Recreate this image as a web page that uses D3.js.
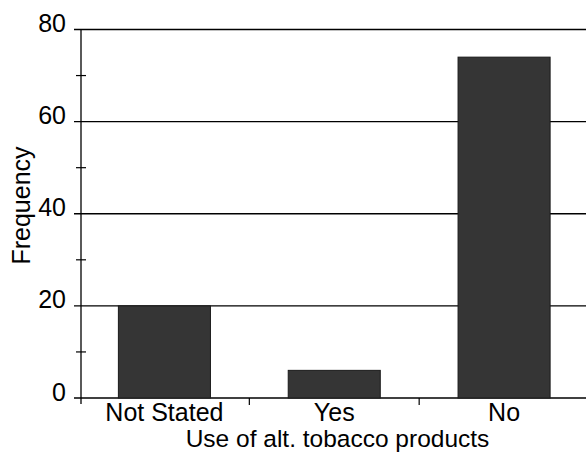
<!DOCTYPE html>
<html>
<head>
<meta charset="utf-8">
<script src="https://cdn.jsdelivr.net/npm/d3@7/dist/d3.min.js"></script>
<style>
  html, body { margin: 0; padding: 0; background: #fff; }
  svg { display: block; }
  text { font-family: "Liberation Sans", Arial, sans-serif; fill: #000; }
</style>
</head>
<body>
<svg id="chart" width="586" height="452"></svg>
<script>
const categories = ["Not Stated", "Yes", "No"];
const frequencies = [20, 6, 74];
const yTicks = [0, 20, 40, 60, 80];
const yMinorTicks = [10, 30, 50, 70];
const xTitle = "Use of alt. tobacco products";
const yTitle = "Frequency";

(function () {
const svg = d3.select("#chart");
const W = 586;
const mLeft = 81, mRight = 589, mTop = 29.5, mBottom = 398;
const fs = "25px";

const x = d3.scaleBand().domain(categories).range([mLeft - 1.5, mRight])
  .paddingInner(0.458).paddingOuter(0.229);
const y = d3.scaleLinear().domain([0, 80]).range([mBottom, mTop]);

// gridlines (including zero baseline)
svg.append("g").selectAll("line").data(yTicks).join("line")
  .attr("x1", mLeft - 7).attr("x2", W)
  .attr("y1", d => y(d)).attr("y2", d => y(d))
  .attr("stroke", "#000").attr("stroke-width", 1.3);

// bars
svg.append("g").selectAll("rect").data(categories).join("rect")
  .attr("x", d => x(d))
  .attr("width", x.bandwidth())
  .attr("y", (d, i) => y(frequencies[i]))
  .attr("height", (d, i) => y(0) - y(frequencies[i]))
  .attr("fill", "#353535")
  .attr("stroke", "#1a1a1a").attr("stroke-width", 1);

// y axis line
svg.append("line").attr("x1", mLeft).attr("x2", mLeft)
  .attr("y1", mTop).attr("y2", mBottom + 6)
  .attr("stroke", "#000").attr("stroke-width", 1.3);

// minor ticks
svg.append("g").selectAll("line").data(yMinorTicks).join("line")
  .attr("x1", mLeft - 5).attr("x2", mLeft + 5)
  .attr("y1", d => y(d)).attr("y2", d => y(d))
  .attr("stroke", "#000").attr("stroke-width", 1.2);

// y tick labels
svg.append("g").selectAll("text").data(yTicks).join("text")
  .attr("x", 66).attr("y", d => y(d) + 2.5)
  .attr("text-anchor", "end")
  .style("font-size", fs)
  .text(d => d);

// x ticks at band boundaries
const bounds = d3.range(1, categories.length).map(i => x.range()[0] + i * x.step());
svg.append("g").selectAll("line").data(bounds).join("line")
  .attr("x1", d => d).attr("x2", d => d)
  .attr("y1", mBottom).attr("y2", mBottom + 7)
  .attr("stroke", "#000").attr("stroke-width", 1.2);

// x tick labels
svg.append("g").selectAll("text").data(categories).join("text")
  .attr("x", d => x(d) + x.bandwidth() / 2)
  .attr("y", 420.5)
  .attr("text-anchor", "middle")
  .style("font-size", fs)
  .text(d => d);

// axis titles
svg.append("text").attr("x", 337.5).attr("y", 447)
  .attr("text-anchor", "middle").style("font-size", "24.5px").text(xTitle);

svg.append("text").attr("transform", "translate(29.5,205.5) rotate(-90)")
  .attr("text-anchor", "middle").style("font-size", fs).text(yTitle);
})();
</script>
</body>
</html>
